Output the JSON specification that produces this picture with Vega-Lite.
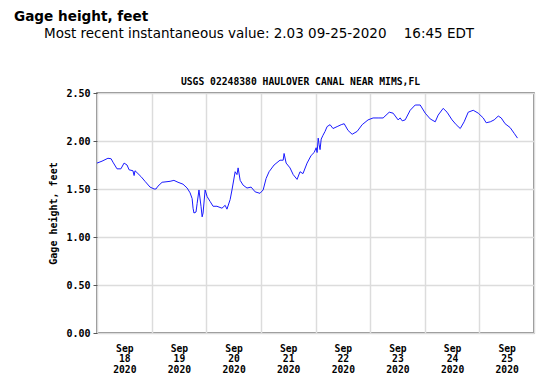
{
  "$schema": "https://vega.github.io/schema/vega-lite/v6.json",
  "width": 437,
  "height": 240,
  "autosize": {"type": "none"},
  "padding": {"left": 97, "top": 93, "right": 16, "bottom": 45},
  "background": "white",
  "title": {
    "text": "Gage height, feet",
    "subtitle": "\u200b\u00a0\u00a0\u00a0\u00a0\u00a0\u00a0\u00a0Most recent instantaneous value: 2.03 09-25-2020\u00a0\u00a0\u00a0\u00a016:45 EDT",
    "anchor": "start",
    "frame": "group",
    "dx": -83,
    "font": "DejaVu Sans",
    "fontSize": 13.6,
    "fontWeight": "bold",
    "color": "#000",
    "subtitleFont": "DejaVu Sans",
    "subtitleFontSize": 13.5,
    "subtitleColor": "#000",
    "subtitlePadding": 3,
    "offset": 36
  },
  "config": {
    "view": {"stroke": "#666", "strokeWidth": 1.5},
    "axis": {
      "labelFont": "DejaVu Sans Mono",
      "labelFontWeight": "bold",
      "labelFontSize": 10,
      "labelColor": "#000",
      "titleFont": "DejaVu Sans Mono",
      "titleFontWeight": "bold",
      "titleFontSize": 10,
      "titleColor": "#000",
      "gridColor": "#dcdcdc",
      "gridWidth": 1.5,
      "domainColor": "#555",
      "tickColor": "#555"
    }
  },
  "resolve": {"axis": {"x": "independent"}},
  "data": {
    "values": [
      {"t": "2020-09-18T00:00", "v": 1.77},
      {"t": "2020-09-18T02:12", "v": 1.79},
      {"t": "2020-09-18T04:48", "v": 1.82},
      {"t": "2020-09-18T06:12", "v": 1.815},
      {"t": "2020-09-18T07:00", "v": 1.78},
      {"t": "2020-09-18T08:48", "v": 1.71},
      {"t": "2020-09-18T10:30", "v": 1.71},
      {"t": "2020-09-18T11:54", "v": 1.77},
      {"t": "2020-09-18T13:12", "v": 1.75},
      {"t": "2020-09-18T14:06", "v": 1.70},
      {"t": "2020-09-18T15:48", "v": 1.69},
      {"t": "2020-09-18T16:18", "v": 1.64},
      {"t": "2020-09-18T16:42", "v": 1.69},
      {"t": "2020-09-18T17:36", "v": 1.67},
      {"t": "2020-09-18T19:18", "v": 1.63},
      {"t": "2020-09-18T21:06", "v": 1.58},
      {"t": "2020-09-18T23:18", "v": 1.52},
      {"t": "2020-09-19T01:06", "v": 1.50},
      {"t": "2020-09-19T01:54", "v": 1.50},
      {"t": "2020-09-19T02:48", "v": 1.53},
      {"t": "2020-09-19T04:36", "v": 1.57},
      {"t": "2020-09-19T08:06", "v": 1.58},
      {"t": "2020-09-19T09:48", "v": 1.59},
      {"t": "2020-09-19T11:36", "v": 1.57},
      {"t": "2020-09-19T13:48", "v": 1.55},
      {"t": "2020-09-19T15:36", "v": 1.51},
      {"t": "2020-09-19T16:54", "v": 1.46},
      {"t": "2020-09-19T17:48", "v": 1.40},
      {"t": "2020-09-19T18:12", "v": 1.30},
      {"t": "2020-09-19T18:36", "v": 1.25},
      {"t": "2020-09-19T19:30", "v": 1.26},
      {"t": "2020-09-19T20:00", "v": 1.35},
      {"t": "2020-09-19T20:48", "v": 1.49},
      {"t": "2020-09-19T21:42", "v": 1.32},
      {"t": "2020-09-19T22:12", "v": 1.21},
      {"t": "2020-09-19T22:36", "v": 1.25},
      {"t": "2020-09-19T23:30", "v": 1.49},
      {"t": "2020-09-20T00:24", "v": 1.42},
      {"t": "2020-09-20T01:42", "v": 1.37},
      {"t": "2020-09-20T03:00", "v": 1.32},
      {"t": "2020-09-20T04:42", "v": 1.32},
      {"t": "2020-09-20T06:54", "v": 1.30},
      {"t": "2020-09-20T08:18", "v": 1.33},
      {"t": "2020-09-20T09:06", "v": 1.29},
      {"t": "2020-09-20T10:30", "v": 1.39},
      {"t": "2020-09-20T11:18", "v": 1.49},
      {"t": "2020-09-20T12:42", "v": 1.68},
      {"t": "2020-09-20T13:30", "v": 1.65},
      {"t": "2020-09-20T14:00", "v": 1.72},
      {"t": "2020-09-20T14:54", "v": 1.59},
      {"t": "2020-09-20T16:12", "v": 1.54},
      {"t": "2020-09-20T17:54", "v": 1.51},
      {"t": "2020-09-20T19:42", "v": 1.52},
      {"t": "2020-09-20T21:30", "v": 1.47},
      {"t": "2020-09-20T23:36", "v": 1.455},
      {"t": "2020-09-21T01:00", "v": 1.49},
      {"t": "2020-09-21T02:18", "v": 1.61},
      {"t": "2020-09-21T03:36", "v": 1.68},
      {"t": "2020-09-21T05:48", "v": 1.75},
      {"t": "2020-09-21T08:24", "v": 1.80},
      {"t": "2020-09-21T09:48", "v": 1.80},
      {"t": "2020-09-21T10:12", "v": 1.87},
      {"t": "2020-09-21T11:06", "v": 1.77},
      {"t": "2020-09-21T12:48", "v": 1.72},
      {"t": "2020-09-21T14:12", "v": 1.65},
      {"t": "2020-09-21T15:54", "v": 1.60},
      {"t": "2020-09-21T17:12", "v": 1.68},
      {"t": "2020-09-21T18:30", "v": 1.66},
      {"t": "2020-09-21T20:18", "v": 1.77},
      {"t": "2020-09-21T22:06", "v": 1.85},
      {"t": "2020-09-21T23:24", "v": 1.88},
      {"t": "2020-09-22T00:18", "v": 1.93},
      {"t": "2020-09-22T00:42", "v": 1.88},
      {"t": "2020-09-22T01:12", "v": 2.03},
      {"t": "2020-09-22T01:36", "v": 1.96},
      {"t": "2020-09-22T02:00", "v": 1.91},
      {"t": "2020-09-22T02:30", "v": 2.02},
      {"t": "2020-09-22T03:18", "v": 2.06},
      {"t": "2020-09-22T04:12", "v": 2.10},
      {"t": "2020-09-22T05:06", "v": 2.15},
      {"t": "2020-09-22T06:24", "v": 2.17},
      {"t": "2020-09-22T07:42", "v": 2.13},
      {"t": "2020-09-22T09:30", "v": 2.15},
      {"t": "2020-09-22T11:18", "v": 2.17},
      {"t": "2020-09-22T12:36", "v": 2.18},
      {"t": "2020-09-22T14:18", "v": 2.11},
      {"t": "2020-09-22T16:06", "v": 2.07},
      {"t": "2020-09-22T18:18", "v": 2.10},
      {"t": "2020-09-22T20:30", "v": 2.17},
      {"t": "2020-09-22T23:06", "v": 2.22},
      {"t": "2020-09-23T01:18", "v": 2.24},
      {"t": "2020-09-23T03:30", "v": 2.24},
      {"t": "2020-09-23T05:42", "v": 2.24},
      {"t": "2020-09-23T08:24", "v": 2.30},
      {"t": "2020-09-23T10:06", "v": 2.29},
      {"t": "2020-09-23T12:18", "v": 2.22},
      {"t": "2020-09-23T13:12", "v": 2.24},
      {"t": "2020-09-23T14:06", "v": 2.21},
      {"t": "2020-09-23T15:24", "v": 2.22},
      {"t": "2020-09-23T17:36", "v": 2.32},
      {"t": "2020-09-23T19:48", "v": 2.375},
      {"t": "2020-09-23T22:00", "v": 2.375},
      {"t": "2020-09-24T00:12", "v": 2.29},
      {"t": "2020-09-24T02:24", "v": 2.23},
      {"t": "2020-09-24T04:36", "v": 2.20},
      {"t": "2020-09-24T05:54", "v": 2.27},
      {"t": "2020-09-24T08:06", "v": 2.34},
      {"t": "2020-09-24T09:48", "v": 2.30},
      {"t": "2020-09-24T12:00", "v": 2.22},
      {"t": "2020-09-24T13:48", "v": 2.17},
      {"t": "2020-09-24T15:36", "v": 2.13},
      {"t": "2020-09-24T17:18", "v": 2.20},
      {"t": "2020-09-24T19:06", "v": 2.30},
      {"t": "2020-09-24T21:18", "v": 2.32},
      {"t": "2020-09-24T23:30", "v": 2.29},
      {"t": "2020-09-25T01:42", "v": 2.24},
      {"t": "2020-09-25T03:00", "v": 2.19},
      {"t": "2020-09-25T04:48", "v": 2.20},
      {"t": "2020-09-25T06:30", "v": 2.22},
      {"t": "2020-09-25T08:18", "v": 2.26},
      {"t": "2020-09-25T09:36", "v": 2.24},
      {"t": "2020-09-25T11:18", "v": 2.18},
      {"t": "2020-09-25T13:30", "v": 2.14},
      {"t": "2020-09-25T15:18", "v": 2.08},
      {"t": "2020-09-25T16:45", "v": 2.03}
    ]
  },
  "encoding": {
    "y": {
      "field": "v",
      "type": "quantitative",
      "scale": {"domain": [0, 2.5], "nice": false},
      "axis": {
        "title": "Gage height, feet",
        "values": [0, 0.5, 1, 1.5, 2, 2.5],
        "format": ".2f",
        "tickSize": 4,
        "labelPadding": 3,
        "titlePadding": 7,
        "domain": false
      }
    }
  },
  "layer": [
    {
      "mark": {"type": "line", "color": "#1a1aff", "strokeWidth": 1},
      "encoding": {
        "x": {
          "field": "t",
          "type": "temporal",
          "scale": {
            "domain": [
              {"year": 2020, "month": 9, "date": 18},
              {"year": 2020, "month": 9, "date": 26}
            ]
          },
          "axis": {
            "orient": "bottom",
            "title": null,
            "values": [
              {"year": 2020, "month": 9, "date": 18},
              {"year": 2020, "month": 9, "date": 19},
              {"year": 2020, "month": 9, "date": 20},
              {"year": 2020, "month": 9, "date": 21},
              {"year": 2020, "month": 9, "date": 22},
              {"year": 2020, "month": 9, "date": 23},
              {"year": 2020, "month": 9, "date": 24},
              {"year": 2020, "month": 9, "date": 25},
              {"year": 2020, "month": 9, "date": 26}
            ],
            "labelExpr": "date(datum.value) == 26 ? '' : [timeFormat(datum.value, '%b'), timeFormat(datum.value, '%d'), timeFormat(datum.value, '%Y')]",
            "labelOffset": 27.3,
            "labelAngle": 0,
            "labelAlign": "center",
            "labelBaseline": "top",
            "labelFontSize": 9.7,
            "labelLineHeight": 10.5,
            "labelPadding": 10,
            "labelFlush": false,
            "labelOverlap": false,
            "ticks": false,
            "domain": false
          }
        }
      }
    },
    {
      "mark": {"type": "line", "opacity": 0},
      "encoding": {
        "x": {
          "field": "t",
          "type": "temporal",
          "axis": {
            "orient": "top",
            "title": "USGS 02248380 HAULOVER CANAL NEAR MIMS,FL",
            "titleFontSize": 9.7,
            "titleX": 203,
            "titleAlign": "center",
            "titlePadding": 7,
            "labels": false,
            "ticks": false,
            "domain": false,
            "grid": false
          }
        }
      }
    }
  ]
}
